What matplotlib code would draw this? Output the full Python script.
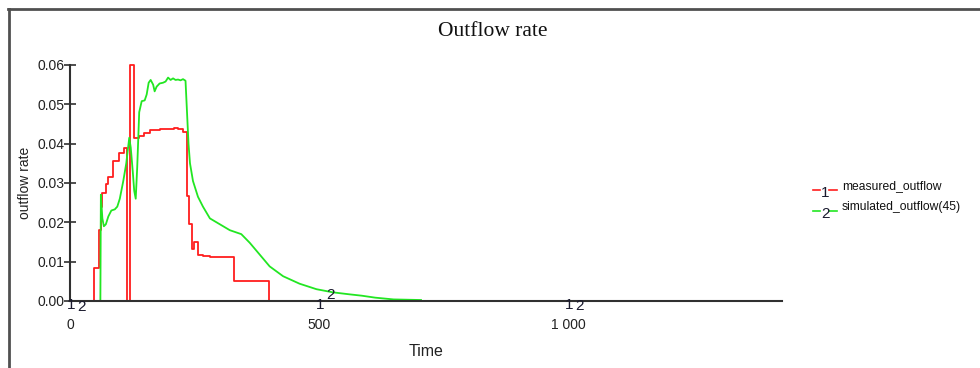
import matplotlib
matplotlib.use("Agg")
from matplotlib import pyplot as plt
from matplotlib.lines import Line2D
import numpy as np

# measured outflow (step data)
measured_time = [0, 49, 58, 63, 65, 72, 77, 87, 98, 108, 115, 120, 128, 139, 149, 160,
                 170, 180, 208, 217, 227, 234, 239, 245, 249, 257, 267, 281, 329, 399]
measured_rate = [0, 0.0085, 0.018, 0.024, 0.0275, 0.0297, 0.0315, 0.0355, 0.0377, 0.039,
                 0, 0.06, 0.0415, 0.042, 0.0428, 0.0436, 0.0434, 0.0437, 0.044, 0.0437,
                 0.043, 0.0268, 0.0196, 0.0133, 0.015, 0.0118, 0.0115, 0.0112, 0.005, 0]

# simulated outflow (45)
simulated_time = [0, 61, 62, 65, 68, 72, 77, 83, 90, 95, 100, 107, 113, 119, 122, 126, 129,
                  132, 135, 139, 144, 150, 154, 158, 162, 167, 170, 174, 180, 187, 192, 197,
                  202, 207, 212, 217, 222, 227, 232, 235, 238, 241, 247, 257, 267, 281, 301,
                  321, 344, 361, 381, 401, 428, 461, 495, 528, 561, 586, 613, 650, 705]
simulated_rate = [0, 0, 0.027, 0.021, 0.019, 0.0195, 0.0215, 0.023, 0.0233, 0.024, 0.026,
                  0.0305, 0.035, 0.0415, 0.039, 0.033, 0.028, 0.026, 0.034, 0.048, 0.0508,
                  0.051, 0.0525, 0.0555, 0.0562, 0.055, 0.0533, 0.0545, 0.0553, 0.0555,
                  0.0558, 0.0568, 0.0562, 0.0566, 0.0562, 0.0563, 0.0561, 0.0564, 0.056,
                  0.048, 0.040, 0.035, 0.0305, 0.0265, 0.024, 0.021, 0.0195, 0.018, 0.017,
                  0.0148, 0.0118, 0.0088, 0.0063, 0.0044, 0.003, 0.0022, 0.0017, 0.00135,
                  0.00085, 0.0004, 0.00025]

label_times = [0, 500, 1000]
x_ticks = [0, 500, 1000]
x_tick_labels = ["0", "500", "1 000"]
y_ticks = [0.0, 0.01, 0.02, 0.03, 0.04, 0.05, 0.06]
series_names = ["measured_outflow", "simulated_outflow(45)"]

RED = "#ff1e1e"
GREEN = "#22e622"
AXIS = "#303030"
TEXT = "#1a1a2e"

plt.rcParams["font.family"] = ["Liberation Sans", "DejaVu Sans"]

fig = plt.figure(figsize=(9.8, 3.68), dpi=100)
ax = fig.add_axes([70 / 980, 1 - 301 / 368, (782 - 70) / 980, (301 - 65) / 368])

ax.plot(measured_time, measured_rate, color=RED, lw=1.3, drawstyle="steps-post",
        clip_on=False, zorder=2)
ax.plot(simulated_time, simulated_rate, color=GREEN, lw=1.3, clip_on=False, zorder=2)

ax.set_xlim(0, 1430)
ax.set_ylim(0, 0.06)

for side in ["top", "right"]:
    ax.spines[side].set_visible(False)
for side in ["left", "bottom"]:
    ax.spines[side].set_color(AXIS)
    ax.spines[side].set_linewidth(1.5)
    ax.spines[side].set_zorder(3)

ax.set_yticks(y_ticks)
ax.set_yticklabels([f"{v:.2f}" for v in y_ticks], fontsize=10, color="#222222")
ax.tick_params(axis="y", direction="inout", length=8, width=1.2, color=AXIS, pad=0)
ax.set_xticks(x_ticks)
ax.set_xticklabels(x_tick_labels, fontsize=10, color="#222222")
ax.tick_params(axis="x", length=0, pad=12)

ax.set_xlabel("Time", fontsize=11.5, labelpad=9, color="#222222")
ax.set_ylabel("outflow rate", fontsize=10, labelpad=4, color="#222222")

# series number labels along the curves
sim_at = np.interp(label_times, simulated_time, simulated_rate)
for t, g in zip(label_times, sim_at):
    ax.annotate("1", (t, 0), xytext=(1, -3), textcoords="offset points",
                ha="center", va="center", fontsize=11, color=TEXT, zorder=4,
                annotation_clip=False)
    ax.annotate("2", (t, g), xytext=(8.5, -4), textcoords="offset points",
                ha="center", va="center", fontsize=11, color=TEXT, zorder=4,
                annotation_clip=False)

fig.text(493 / 980, 1 - 31 / 368, "Outflow rate", ha="center", va="center",
         fontsize=15.5, family="Liberation Serif", color="#111111")

# legend drawn by hand
legend_rows = [1 - 187 / 368, 1 - 208 / 368]
for i, (name, color, yy) in enumerate(zip(series_names, [RED, GREEN], legend_rows)):
    fig.add_artist(Line2D([813 / 980, 820 / 980], [yy - 3 / 368] * 2, color=color, lw=1.2))
    fig.add_artist(Line2D([829 / 980, 837 / 980], [yy - 3 / 368] * 2, color=color, lw=1.2))
    fig.text(825 / 980, yy - 6 / 368, str(i + 1), ha="center", va="center",
             fontsize=11, color=TEXT)
    fig.text(842 / 980, yy + 1 / 368, name, ha="left", va="center", fontsize=8.7,
             color="#111111")

# outer frame
fig.add_artist(Line2D([8 / 980, 1.0], [1 - 9 / 368] * 2, color="#505050", lw=2))
fig.add_artist(Line2D([9 / 980] * 2, [0, 1 - 9 / 368], color="#505050", lw=2))

fig.savefig("out.png", dpi=100)
